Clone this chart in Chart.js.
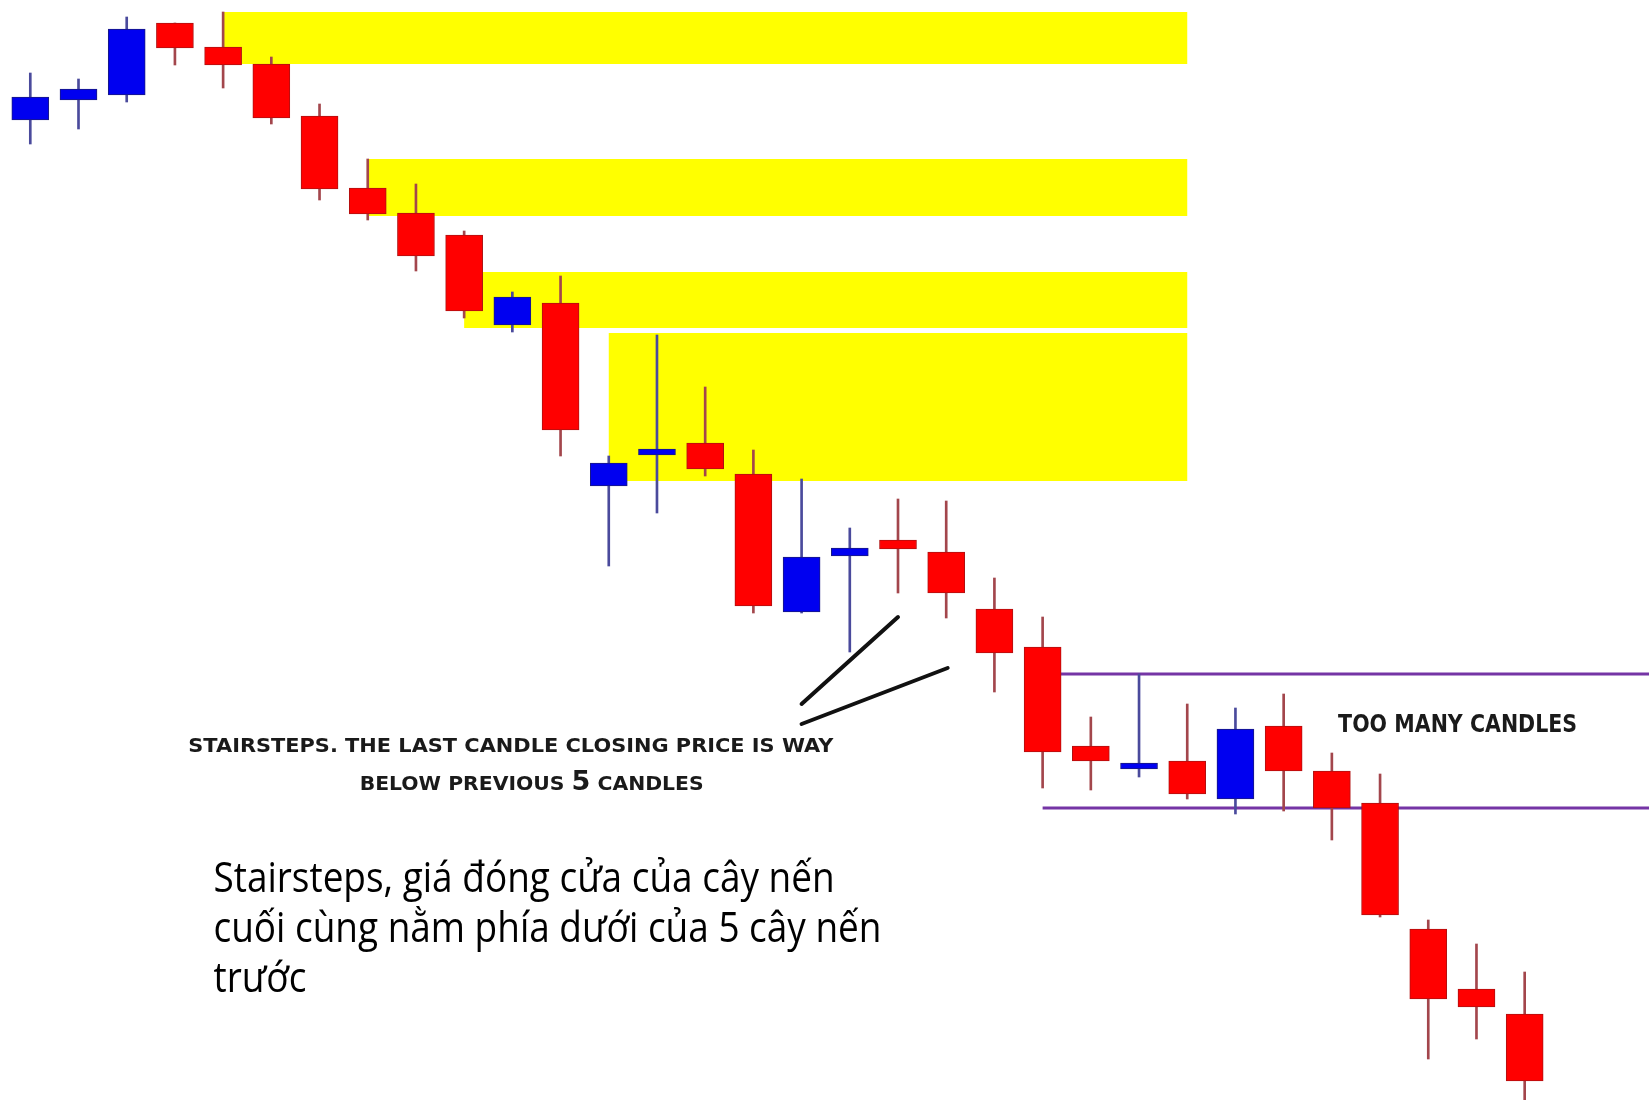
<!DOCTYPE html>
<html>
<head>
<meta charset="utf-8">
<title>Stairsteps</title>
<script src="https://cdn.jsdelivr.net/npm/chart.js@4.4.1/dist/chart.umd.min.js"></script>
<style>
  html, body { margin: 0; padding: 0; background: #ffffff; }
  #wrap { width: 1649px; height: 1100px; position: relative; }
</style>
</head>
<body>
<div id="wrap"><canvas id="candleChart"></canvas></div>
<script>
// OHLC, one entry per candle, left to right
const openPrices  = [1.2980, 1.3000, 1.3005, 1.3077, 1.3053, 1.3036, 1.2984, 1.2912, 1.2887, 1.2865,
                     1.2775, 1.2797, 1.2614, 1.2645, 1.2657, 1.2626, 1.2488, 1.2544, 1.2560, 1.2548,
                     1.2491, 1.2453, 1.2354, 1.2331, 1.2339, 1.2301, 1.2374, 1.2329, 1.2297, 1.2171,
                     1.2111, 1.2086];
const highPrices  = [1.3027, 1.3021, 1.3083, 1.3077, 1.3088, 1.3043, 1.2996, 1.2941, 1.2916, 1.2869,
                     1.2808, 1.2824, 1.2644, 1.2765, 1.2713, 1.2650, 1.2621, 1.2572, 1.2601, 1.2599,
                     1.2522, 1.2483, 1.2383, 1.2426, 1.2396, 1.2392, 1.2406, 1.2347, 1.2326, 1.2180,
                     1.2156, 1.2128];
const lowPrices   = [1.2956, 1.2971, 1.2998, 1.3035, 1.3012, 1.2976, 1.2900, 1.2880, 1.2829, 1.2782,
                     1.2768, 1.2644, 1.2534, 1.2587, 1.2624, 1.2487, 1.2487, 1.2448, 1.2507, 1.2482,
                     1.2408, 1.2312, 1.2310, 1.2323, 1.2301, 1.2286, 1.2289, 1.2260, 1.2183, 1.2041,
                     1.2061, 1.2000];
const closePrices = [1.3003, 1.3011, 1.3071, 1.3052, 1.3035, 1.2982, 1.2911, 1.2886, 1.2844, 1.2789,
                     1.2803, 1.2670, 1.2637, 1.2651, 1.2631, 1.2494, 1.2543, 1.2552, 1.2551, 1.2507,
                     1.2447, 1.2348, 1.2339, 1.2337, 1.2306, 1.2371, 1.2329, 1.2292, 1.2185, 1.2101,
                     1.2093, 1.2019];

// yellow supply zones: price band and the candle index they run from / to
const zoneTop    = [1.3088, 1.2941, 1.2828, 1.2767];
const zoneBottom = [1.3036, 1.2884, 1.2772, 1.2619];
const zoneFrom   = [4, 7, 9, 12];
const zoneTo     = [24, 24, 24, 24];

// purple range ("too many candles"), drawn from this candle to the right edge
const rangeLevels = [1.2426, 1.2292];
const rangeFrom = 21;

// black pointer strokes: [candle index, price] start -> end
const pointerStart = [[16, 1.2396], [16, 1.2376]];
const pointerEnd   = [[18, 1.2483], [19.03, 1.2432]];

const captionLines = ['STAIRSTEPS. THE LAST CANDLE CLOSING PRICE IS WAY', 'BELOW PREVIOUS 5 CANDLES'];
const rangeLabel = 'TOO MANY CANDLES';
const noteLines = ['Stairsteps, giá đóng cửa của cây nến', 'cuối cùng nằm phía dưới của 5 cây nến', 'trước'];

const candleIndex = openPrices.map((_, i) => i);
const isUp = candleIndex.map(i => closePrices[i] >= openPrices[i]);

// draw text squeezed/stretched to a given pixel width
function drawFitted(ctx, parts, x, y, width, align) {
    let total = 0;
    parts.forEach(p => { ctx.font = p.font; p.w = ctx.measureText(p.text).width; total += p.w; });
    const sx = width / total;
    ctx.save();
    ctx.translate(align === 'center' ? x - width / 2 : x, y);
    ctx.scale(sx, 1);
    ctx.textAlign = 'left';
    ctx.textBaseline = 'alphabetic';
    let cx = 0;
    parts.forEach(p => { ctx.font = p.font; ctx.fillText(p.text, cx, 0); cx += p.w; });
    ctx.restore();
}

const overlayPlugin = {
    id: 'overlay',
    beforeDatasetsDraw(chart) {
        const { ctx, chartArea, scales: { x, y } } = chart;
        ctx.save();
        ctx.fillStyle = '#ffff00';
        zoneTop.forEach((top, i) => {
            const x0 = x.getPixelForValue(zoneFrom[i]);
            const x1 = x.getPixelForValue(zoneTo[i]);
            const y0 = y.getPixelForValue(top);
            const y1 = y.getPixelForValue(zoneBottom[i]);
            ctx.fillRect(x0, y0, x1 - x0, y1 - y0);
        });
        ctx.strokeStyle = '#7535a5';
        ctx.lineWidth = 3;
        rangeLevels.forEach(level => {
            const py = y.getPixelForValue(level);
            ctx.beginPath();
            ctx.moveTo(x.getPixelForValue(rangeFrom), py);
            ctx.lineTo(chartArea.right, py);
            ctx.stroke();
        });
        ctx.restore();
    },
    afterDatasetsDraw(chart) {
        const { ctx, scales: { x, y } } = chart;
        ctx.save();
        // pointer strokes
        ctx.strokeStyle = '#111111';
        ctx.lineWidth = 4;
        ctx.lineCap = 'round';
        pointerStart.forEach((s, i) => {
            const e = pointerEnd[i];
            ctx.beginPath();
            ctx.moveTo(x.getPixelForValue(s[0]), y.getPixelForValue(s[1]));
            ctx.lineTo(x.getPixelForValue(e[0]), y.getPixelForValue(e[1]));
            ctx.stroke();
        });

        // caption, copperplate-ish wide caps
        ctx.fillStyle = '#1a1a1a';
        const capFont = 'bold 19.5px "DejaVu Sans"';
        drawFitted(ctx, [{ text: captionLines[0], font: capFont }],
            x.getPixelForValue(9.968), y.getPixelForValue(1.2348), 645, 'center');
        const l2 = captionLines[1].split('5');
        drawFitted(ctx, [
            { text: l2[0], font: capFont },
            { text: '5', font: 'bold 26px "DejaVu Sans"' },
            { text: l2[1], font: capFont }
        ], x.getPixelForValue(10.40), y.getPixelForValue(1.2310), 344, 'center');

        drawFitted(ctx, [{ text: rangeLabel, font: 'bold 24px "DejaVu Sans"' }],
            x.getPixelForValue(27.13), y.getPixelForValue(1.2368), 239, 'left');

        // Vietnamese note
        ctx.fillStyle = '#000000';
        const noteFont = '42px "Open Sans"';
        ctx.font = noteFont;
        const sx = 668 / ctx.measureText(noteLines[1]).width;
        const noteBase = [1.2208, 1.2158, 1.2108];
        noteLines.forEach((line, i) => {
            ctx.font = noteFont;
            const w = ctx.measureText(line).width * sx;
            drawFitted(ctx, [{ text: line, font: noteFont }],
                x.getPixelForValue(3.80), y.getPixelForValue(noteBase[i]), w, 'left');
        });
        ctx.restore();
    }
};

const ctx = document.getElementById('candleChart').getContext('2d');
const candleChart = new Chart(ctx, {
    type: 'bar',
    data: {
        datasets: [{
            label: 'Wick',
            data: candleIndex.map(i => ({ x: i, y: [lowPrices[i], highPrices[i]] })),
            backgroundColor: candleIndex.map(i => isUp[i] ? '#4a4a9c' : '#a3464c'),
            barThickness: 2,
            grouped: false,
            order: 2
        }, {
            label: 'Body',
            data: candleIndex.map(i => ({ x: i, y: [openPrices[i], closePrices[i]] })),
            backgroundColor: candleIndex.map(i => isUp[i] ? '#0000f0' : '#ff0000'),
            borderColor: candleIndex.map(i => isUp[i] ? '#1a1a80' : '#b01010'),
            borderWidth: 1,
            borderSkipped: false,
            barThickness: 37,
            grouped: false,
            order: 1
        }]
    },
    options: {
        responsive: true,
        maintainAspectRatio: false,
        animation: false,
        events: [],
        layout: { padding: 0 },
        scales: {
            x: { type: 'linear', min: -0.6285, max: 33.579, offset: false, display: false },
            y: { type: 'linear', min: 1.2000, max: 1.3100, display: false }
        },
        plugins: {
            legend: { display: false },
            tooltip: { enabled: false }
        }
    },
    plugins: [overlayPlugin]
});
</script>
</body>
</html>
